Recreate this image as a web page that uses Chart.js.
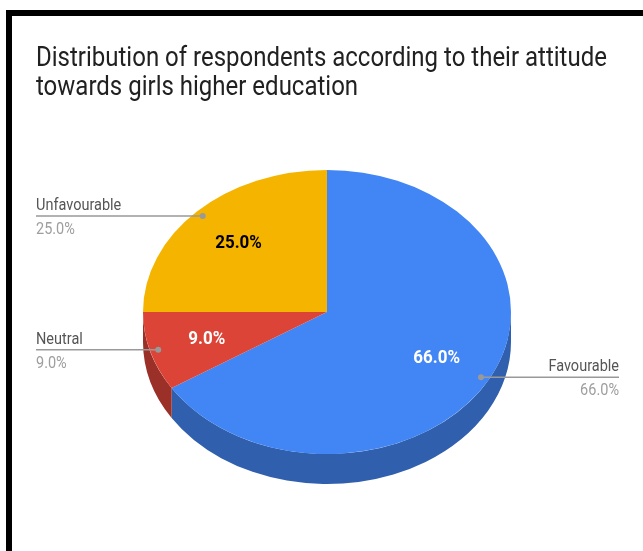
<!DOCTYPE html>
<html>
<head>
<meta charset="utf-8">
<script src="https://cdn.jsdelivr.net/npm/chart.js@4"></script>
<style>
  html, body { margin: 0; padding: 0; background: #fff; }
  body { width: 643px; height: 551px; position: relative; overflow: hidden; }
  .frame {
    position: absolute; left: 6px; top: 10px; right: 0; bottom: 0;
    border-top: 6px solid #000; border-left: 6px solid #000;
  }
  #pie { position: absolute; left: 0; top: 0; }
</style>
</head>
<body>
<div class="frame"></div>
<canvas id="pie" width="643" height="551"></canvas>
<script>
const titleLines = ["Distribution of respondents according to their attitude", "towards girls higher education"];
const categories = ["Favourable", "Neutral", "Unfavourable"];
const shares = [66, 9, 25];
const topColors = ["#4285f4", "#db4437", "#f4b400"];
const sideColors = ["#3060ad", "#9b3028", "#ac7f00"];
const insideTextColors = ["#ffffff", "#ffffff", "#000000"];

const TILT = 142 / 184;   // vertical squash of the pie top
const DEPTH = 30;         // wall height in px
const TEXT_STRETCH = 1.12;

function stretchedText(ctx, text, x, y) {
  ctx.save();
  ctx.translate(x, y);
  ctx.scale(1, TEXT_STRETCH);
  ctx.fillText(text, 0, 0);
  ctx.restore();
}

// squash the pie into an ellipse and draw its front wall underneath
const tiltPlugin = {
  id: "tilt",
  beforeDatasetsDraw(chart) {
    const ctx = chart.ctx;
    const arcs = chart.getDatasetMeta(0).data;
    const cx = arcs[0].x, cy = arcs[0].y, R = arcs[0].outerRadius;
    ctx.save();
    ctx.translate(cx, cy);
    ctx.scale(1, TILT);
    arcs.forEach((a, i) => {
      const s = Math.max(a.startAngle, 0);
      const e = Math.min(a.endAngle, Math.PI);
      if (e <= s) return;
      ctx.beginPath();
      ctx.arc(0, 0, R, s, e);
      ctx.arc(0, DEPTH / TILT, R, e, s, true);
      ctx.closePath();
      ctx.fillStyle = sideColors[i];
      ctx.fill();
    });
    ctx.translate(-cx, -cy);
  },
  afterDatasetsDraw(chart) {
    chart.ctx.restore();
  }
};

// title, values inside the slices and the leader-line labels
const labelPlugin = {
  id: "labels",
  afterDraw(chart) {
    const ctx = chart.ctx;
    const arcs = chart.getDatasetMeta(0).data;
    const cx = arcs[0].x, cy = arcs[0].y, R = arcs[0].outerRadius;
    ctx.save();

    ctx.fillStyle = "#212121";
    ctx.font = "24px Roboto";
    ctx.textAlign = "left";
    ctx.textBaseline = "alphabetic";
    titleLines.forEach((t, i) => stretchedText(ctx, t, 36, 66 + i * 29));

    arcs.forEach((a, i) => {
      const mid = (a.startAngle + a.endAngle) / 2;
      const cos = Math.cos(mid), sin = Math.sin(mid);
      const pct = shares[i].toFixed(1) + "%";

      ctx.font = "bold 17px Roboto";
      ctx.textAlign = "center";
      ctx.textBaseline = "middle";
      ctx.fillStyle = insideTextColors[i];
      stretchedText(ctx, pct, cx + 0.68 * R * cos, cy + 0.68 * R * TILT * sin);

      const px = cx + 0.955 * R * cos, py = cy + 0.955 * R * TILT * sin;
      const left = cos < 0;
      const ex = left ? 36 : 619;
      ctx.strokeStyle = "#999";
      ctx.lineWidth = 1.5;
      ctx.beginPath();
      ctx.moveTo(px, py);
      ctx.lineTo(ex, py);
      ctx.stroke();
      ctx.fillStyle = "#999";
      ctx.beginPath();
      ctx.arc(px, py, 3, 0, Math.PI * 2);
      ctx.fill();

      ctx.textAlign = left ? "left" : "right";
      ctx.textBaseline = "alphabetic";
      ctx.font = "14.5px Roboto";
      ctx.fillStyle = "#555";
      stretchedText(ctx, categories[i], ex, py - 6);
      ctx.fillStyle = "#9e9e9e";
      stretchedText(ctx, pct, ex, py + 18);
    });
    ctx.restore();
  }
};

new Chart(document.getElementById("pie"), {
  type: "pie",
  data: {
    labels: categories,
    datasets: [{
      data: shares,
      backgroundColor: topColors,
      borderWidth: 0,
      clip: false
    }]
  },
  options: {
    responsive: false,
    animation: false,
    layout: { padding: { left: 143, right: 132, top: 128, bottom: 55 } },
    plugins: { legend: { display: false }, tooltip: { enabled: false }, title: { display: false } }
  },
  plugins: [tiltPlugin, labelPlugin]
});
</script>
</body>
</html>
